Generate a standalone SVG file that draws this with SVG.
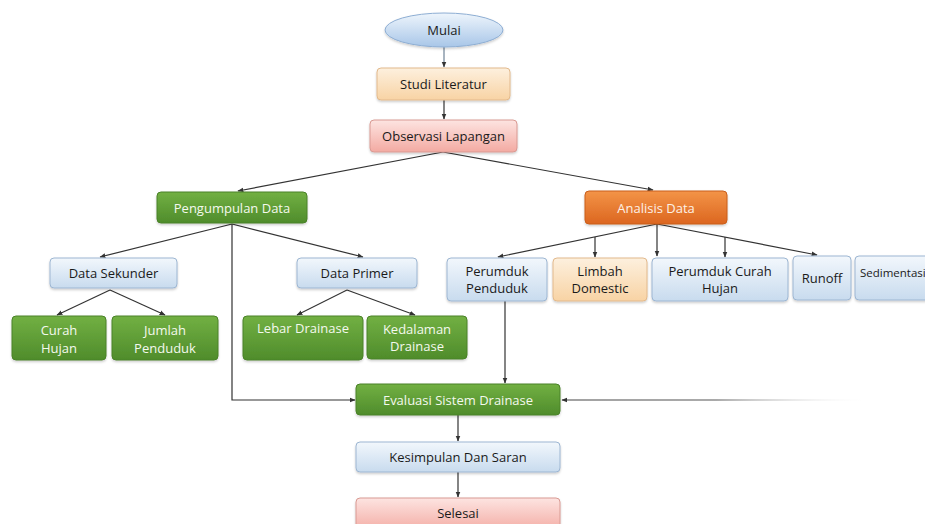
<svg xmlns="http://www.w3.org/2000/svg" width="925" height="524" viewBox="0 0 925 524">
<defs>
<linearGradient id="gGreen" x1="0" y1="0" x2="0" y2="1"><stop offset="0" stop-color="#72b043"/><stop offset="1" stop-color="#4f8c2b"/></linearGradient>
<linearGradient id="gBlue" x1="0" y1="0" x2="0" y2="1"><stop offset="0" stop-color="#f2f7fc"/><stop offset="1" stop-color="#c8dbee"/></linearGradient>
<linearGradient id="gEll" x1="0" y1="0" x2="0" y2="1"><stop offset="0" stop-color="#eef5fc"/><stop offset="1" stop-color="#a8c6e8"/></linearGradient>
<linearGradient id="gPeach" x1="0" y1="0" x2="0" y2="1"><stop offset="0" stop-color="#fdf0de"/><stop offset="1" stop-color="#f8d3a4"/></linearGradient>
<linearGradient id="gPink" x1="0" y1="0" x2="0" y2="1"><stop offset="0" stop-color="#fde4e1"/><stop offset="1" stop-color="#f3aaa2"/></linearGradient>
<linearGradient id="gOrange" x1="0" y1="0" x2="0" y2="1"><stop offset="0" stop-color="#f39447"/><stop offset="1" stop-color="#dc6620"/></linearGradient>
<linearGradient id="gFade" gradientUnits="userSpaceOnUse" x1="562" y1="0" x2="870" y2="0"><stop offset="0" stop-color="#444"/><stop offset="0.5" stop-color="#555"/><stop offset="1" stop-color="#fff" stop-opacity="0"/></linearGradient>
<marker id="arr" viewBox="0 0 10 10" refX="9" refY="5" markerWidth="6" markerHeight="6" orient="auto-start-reverse" markerUnits="userSpaceOnUse"><path d="M0,1 L10,5 L0,9 z" fill="#333"/></marker>
<filter id="sh" x="-10%" y="-10%" width="120%" height="140%"><feDropShadow dx="0" dy="1.5" stdDeviation="1.2" flood-color="#000" flood-opacity="0.2"/></filter>
</defs>
<style>
text{font-family:"Open Sans","Noto Sans","DejaVu Sans",sans-serif;font-size:13px;text-anchor:middle;dominant-baseline:central}
.green rect{fill:url(#gGreen);stroke:#4a8228;stroke-width:1}
.green text{fill:#f4f9ee}
.blue rect{fill:url(#gBlue);stroke:#9db6d2;stroke-width:1}
.blue text,.peach text,.pink text,.ell text{fill:#1a1a1a}
.peach rect{fill:url(#gPeach);stroke:#e2b98c;stroke-width:1}
.pink rect{fill:url(#gPink);stroke:#d99a93;stroke-width:1}
.orange rect{fill:url(#gOrange);stroke:#c95e1c;stroke-width:1}
.orange text{fill:#fdf1e6}
rect{filter:url(#sh)}
#connectors line,#connectors polyline{stroke:#333;stroke-width:1.2;fill:none}
</style>
<g id="connectors">
<line x1="444" y1="47" x2="444" y2="67" marker-end="url(#arr)" style="stroke:#6e8296"/>
<line x1="444" y1="100" x2="444" y2="119" marker-end="url(#arr)"/>
<line x1="443" y1="152" x2="238" y2="191" marker-end="url(#arr)"/>
<line x1="443" y1="152" x2="653" y2="190" marker-end="url(#arr)"/>
<line x1="232" y1="224" x2="100" y2="257" marker-end="url(#arr)"/>
<line x1="232" y1="224" x2="363" y2="257" marker-end="url(#arr)"/>
<polyline points="232,224 232,400 355,400" marker-end="url(#arr)"/>
<line x1="110" y1="290" x2="57" y2="315" marker-end="url(#arr)"/>
<line x1="110" y1="290" x2="165" y2="315" marker-end="url(#arr)"/>
<line x1="347" y1="290" x2="297" y2="315" marker-end="url(#arr)"/>
<line x1="347" y1="290" x2="415" y2="315" marker-end="url(#arr)"/>
<line x1="657" y1="224" x2="498" y2="257" marker-end="url(#arr)"/>
<line x1="657" y1="224" x2="817" y2="255" marker-end="url(#arr)"/>
<line x1="657" y1="224" x2="657" y2="256" marker-end="url(#arr)"/>
<line x1="595" y1="237" x2="595" y2="257" marker-end="url(#arr)"/>
<line x1="725" y1="237" x2="725" y2="257" marker-end="url(#arr)"/>
<line x1="505" y1="301" x2="505" y2="383" marker-end="url(#arr)"/>
<line x1="870" y1="400" x2="562" y2="400" marker-end="url(#arr)" style="stroke:url(#gFade)"/>
<line x1="458" y1="415" x2="458" y2="441" marker-end="url(#arr)"/>
<line x1="458" y1="472" x2="458" y2="497" marker-end="url(#arr)"/>
</g>
<g id="mulai" class="ell"><ellipse cx="444" cy="30" rx="59" ry="17" fill="url(#gEll)" stroke="#8eaed3" filter="url(#sh)"/><text x="444" y="30">Mulai</text></g>
<g id="studi" class="peach"><rect x="377" y="68" width="133" height="32" rx="4"/><text x="443.5" y="84">Studi Literatur</text></g>
<g id="observasi" class="pink"><rect x="370" y="120" width="147" height="32" rx="4"/><text x="443.5" y="136">Observasi Lapangan</text></g>
<g id="pengumpulan" class="green"><rect x="157" y="192" width="150" height="31" rx="4"/><text x="232" y="207.5">Pengumpulan Data</text></g>
<g id="analisis" class="orange"><rect x="585" y="191" width="142" height="33" rx="4"/><text x="656" y="207.5">Analisis Data</text></g>
<g id="sekunder" class="blue"><rect x="50" y="258" width="127" height="30" rx="4"/><text x="113.5" y="273">Data Sekunder</text></g>
<g id="primer" class="blue"><rect x="297" y="258" width="120" height="30" rx="4"/><text x="357" y="273">Data Primer</text></g>
<g id="curah" class="green"><rect x="12" y="316" width="94" height="44" rx="4"/><text x="59" y="330">Curah</text><text x="59" y="348">Hujan</text></g>
<g id="jumlah" class="green"><rect x="112" y="316" width="106" height="44" rx="4"/><text x="165" y="330">Jumlah</text><text x="165" y="348">Penduduk</text></g>
<g id="lebar" class="green"><rect x="243" y="316" width="120" height="44" rx="4"/><text x="303" y="328">Lebar Drainase</text></g>
<g id="kedalaman" class="green"><rect x="367" y="316" width="100" height="43" rx="4"/><text x="417" y="329">Kedalaman</text><text x="417" y="346">Drainase</text></g>
<g id="perumduk-penduduk" class="blue"><rect x="447" y="258" width="100" height="43" rx="4"/><text x="497" y="271">Perumduk</text><text x="497" y="288">Penduduk</text></g>
<g id="limbah" class="peach"><rect x="553" y="258" width="94" height="43" rx="4"/><text x="600" y="271">Limbah</text><text x="600" y="288">Domestic</text></g>
<g id="perumduk-curah" class="blue"><rect x="652" y="258" width="136" height="43" rx="4"/><text x="720" y="271">Perumduk Curah</text><text x="720" y="288">Hujan</text></g>
<g id="runoff" class="blue"><rect x="793" y="256" width="58" height="44" rx="4"/><text x="822" y="278">Runoff</text></g>
<g id="sedimentasi" class="blue"><rect x="855" y="256" width="80" height="44" rx="4"/><text x="860" y="272" style="text-anchor:start;font-size:11.5px">Sedimentasi</text></g>
<g id="evaluasi" class="green"><rect x="356" y="384" width="204" height="31" rx="4"/><text x="458" y="399.5">Evaluasi Sistem Drainase</text></g>
<g id="kesimpulan" class="blue"><rect x="356" y="442" width="204" height="30" rx="4"/><text x="458" y="457">Kesimpulan Dan Saran</text></g>
<g id="selesai" class="pink"><rect x="356" y="498" width="204" height="34" rx="4"/><text x="458" y="513">Selesai</text></g>
</svg>
